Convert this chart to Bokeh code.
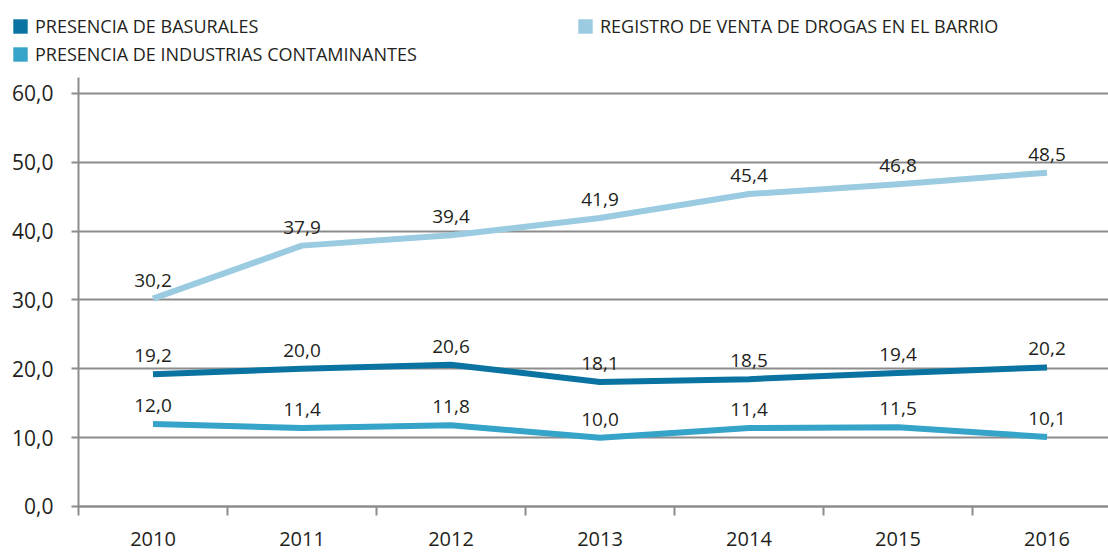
from bokeh.plotting import figure
from bokeh.models import (ColumnDataSource, Legend, LegendItem, FixedTicker, Range1d)
from bokeh.core.properties import value
from bokeh.embed import file_html
from bokeh.resources import INLINE

years = ["2010", "2011", "2012", "2013", "2014", "2015", "2016"]
basurales = [19.2, 20.0, 20.6, 18.1, 18.5, 19.4, 20.2]
industrias = [12.0, 11.4, 11.8, 10.0, 11.4, 11.5, 10.1]
drogas = [30.2, 37.9, 39.4, 41.9, 45.4, 46.8, 48.5]
series_names = ["PRESENCIA DE BASURALES", "PRESENCIA DE INDUSTRIAS CONTAMINANTES",
                "REGISTRO DE VENTA DE DROGAS EN EL BARRIO"]
colors = ["#0a73a2", "#36a3c9", "#9acbe1"]
y_ticks = [0, 10, 20, 30, 40, 50, 60]
y_tick_labels = ["0,0", "10,0", "20,0", "30,0", "40,0", "50,0", "60,0"]

FONT = "Open Sans"
TXT = "#231f20"
GRAY = "#8c8c8c"

x = list(range(len(years)))

# frame spans the whole canvas; both axes are drawn inside it at fixed locations
X0, X1 = -1.0235, 6.4128
Y0, Y1 = -7.845, 73.51
p = figure(width=1108, height=560, output_backend="svg", toolbar_location=None,
           x_range=Range1d(X0, X1), y_range=Range1d(Y0, Y1),
           min_border_left=0, min_border_right=0, min_border_top=0, min_border_bottom=0)
p.outline_line_color = None
p.xgrid.grid_line_color = None
p.ygrid.grid_line_color = None

# y axis (ticks pulled across the plot act as grid lines)
p.yaxis.fixed_location = -0.5
p.yaxis.bounds = (0, 62.32)
p.yaxis.level = "underlay"
p.yaxis.ticker = FixedTicker(ticks=y_ticks)
p.yaxis.major_label_overrides = {t: l for t, l in zip(y_ticks, y_tick_labels)}
p.yaxis.axis_line_color = GRAY
p.yaxis.axis_line_width = 2
p.yaxis.major_tick_line_color = GRAY
p.yaxis.major_tick_line_width = 2
p.yaxis.major_tick_out = 7
p.yaxis.major_tick_in = 1030
p.yaxis.minor_tick_line_color = None
p.yaxis.major_label_standoff = 18
p.yaxis.major_label_text_font = FONT
p.yaxis.major_label_text_font_size = "21px"
p.yaxis.major_label_text_color = TXT

# x axis: labels at centers, ticks at category boundaries
p.xaxis.fixed_location = 0
p.xaxis.level = "underlay"
p.xaxis.bounds = (-0.5, X1)
p.xaxis.ticker = FixedTicker(ticks=x, minor_ticks=[i - 0.5 for i in range(len(years) + 1)])
p.xaxis.major_label_overrides = {i: y for i, y in zip(x, years)}
p.xaxis.axis_line_color = GRAY
p.xaxis.axis_line_width = 2
p.xaxis.major_tick_line_color = None
p.xaxis.major_tick_out = 0
p.xaxis.major_tick_in = 0
p.xaxis.minor_tick_line_color = GRAY
p.xaxis.minor_tick_line_width = 2
p.xaxis.minor_tick_out = 9
p.xaxis.minor_tick_in = 0
p.xaxis.major_label_standoff = 17
p.xaxis.major_label_text_font = FONT
p.xaxis.major_label_text_font_size = "20px"
p.xaxis.major_label_text_color = TXT

swatches = []
for vals, col in zip([basurales, industrias, drogas], colors):
    src = ColumnDataSource(dict(x=x, y=vals, lab=[f"{v:.1f}".replace(".", ",") for v in vals]))
    p.line("x", "y", source=src, line_color=col, line_width=6, line_join="round")
    p.text("x", "y", text="lab", source=src, text_align="center", text_baseline="bottom",
           y_offset=-12, text_font=value(FONT), text_font_size="19px", text_color=TXT)
    # hidden renderer only used for the square legend swatch
    swatches.append(p.vbar(x="x", top="y", width=0.5, source=src, fill_color=col,
                           line_color=None, visible=False))

items = [LegendItem(label=n, renderers=[r]) for n, r in zip(series_names, swatches)]
legend = Legend(items=items, location=(11, 494), orientation="vertical", nrows=2,
                glyph_width=18, glyph_height=18, label_standoff=6, label_width=537,
                label_height=20, spacing=4, padding=0, margin=0,
                border_line_color=None, background_fill_alpha=0,
                label_text_font=FONT, label_text_font_size="18px", label_text_color=TXT)
p.add_layout(legend, "center")

html = file_html(p, INLINE)
open("out.html", "w").write(html)
